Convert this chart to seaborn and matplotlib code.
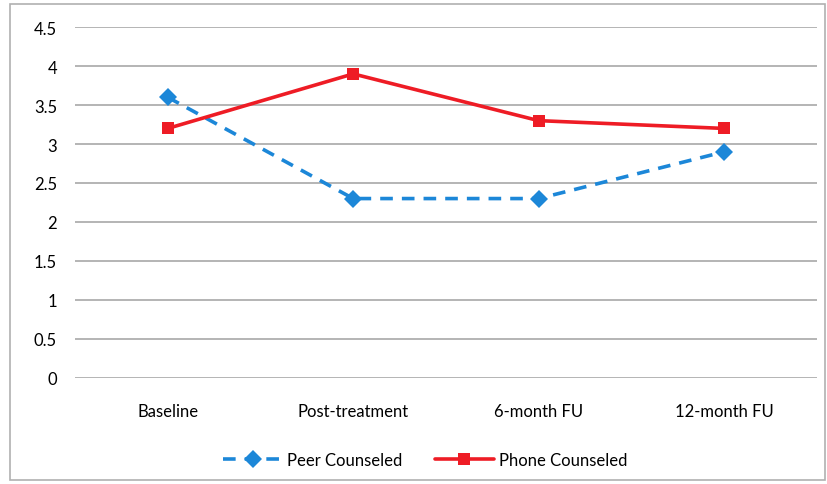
import matplotlib
matplotlib.use("Agg")
import matplotlib.pyplot as plt
import pandas as pd
import seaborn as sns
from matplotlib.patches import Rectangle

timepoints = ["Baseline", "Post-treatment", "6-month FU", "12-month FU"]
peer_counseled = [3.6, 2.3, 2.3, 2.9]
phone_counseled = [3.2, 3.9, 3.3, 3.2]
y_ticks = [0, 0.5, 1, 1.5, 2, 2.5, 3, 3.5, 4, 4.5]
y_tick_labels = ["0", "0.5", "1", "1.5", "2", "2.5", "3", "3.5", "4", "4.5"]

sns.set_style("white")
plt.rcParams["font.family"] = ["Lato", "DejaVu Sans"]

fig = plt.figure(figsize=(8.27, 4.85), dpi=100)
ax = fig.add_axes([0.0907, 0.219, 0.897, 0.723])

# outer chart border
fig.patches.append(Rectangle((0.012, 0.008), 0.985, 0.982, transform=fig.transFigure,
                             fill=False, edgecolor="#b0b0b0", linewidth=1.2))

peer_df = pd.DataFrame({"time": timepoints, "score": peer_counseled})
phone_df = pd.DataFrame({"time": timepoints, "score": phone_counseled})

sns.lineplot(data=peer_df, x="time", y="score", ax=ax, color="#1c87d8",
             linewidth=2.6, linestyle=(0, (3.5, 2.5)), marker="D", markersize=9,
             markeredgewidth=0, label="Peer Counseled", sort=False)
sns.lineplot(data=phone_df, x="time", y="score", ax=ax, color="#ee1c25",
             linewidth=2.6, marker="s", markersize=9, markeredgewidth=0,
             label="Phone Counseled", sort=False)

ax.set_xlim(-0.5, 3.5)
ax.set_ylim(0, 4.5)
ax.set_yticks(y_ticks)
ax.set_yticklabels(y_tick_labels)
ax.yaxis.grid(True, color="#a8a8a8", linewidth=1.2)
ax.set_axisbelow(True)
for spine in ax.spines.values():
    spine.set_visible(False)
ax.tick_params(axis="both", length=0, labelsize=12, colors="#000000")
ax.tick_params(axis="y", pad=13)
ax.tick_params(axis="x", pad=18)
ax.set_xlabel("")
ax.set_ylabel("")

leg = ax.legend(loc="center", bbox_to_anchor=(0.472, -0.235), ncol=2, frameon=False,
                fontsize=12, handlelength=3.5, columnspacing=2.0, handletextpad=0.3)
for t in leg.get_texts():
    t.set_color("#000000")

fig.savefig("out.png", dpi=100)
